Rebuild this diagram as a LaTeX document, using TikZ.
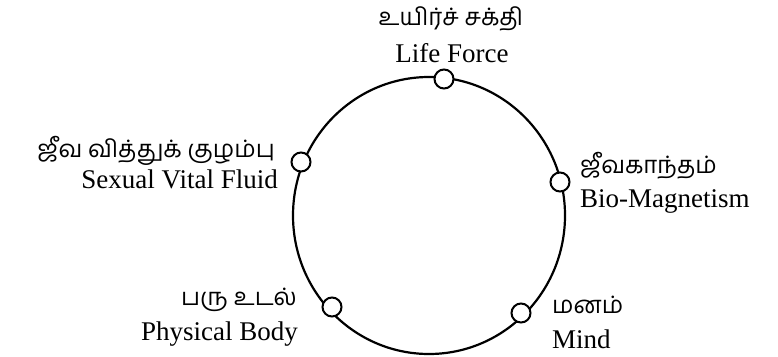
\documentclass[tikz,border=0pt]{standalone}
\usepackage{fontspec}
\setmainfont{Liberation Serif}
\newfontfamily\tamilfont[Script=Tamil]{Hind Madurai}
\begin{document}
\begin{tikzpicture}[x=1pt,y=-1pt,
  dot/.style={circle,draw,line width=2pt,fill=white,minimum size=19pt,inner sep=0pt},
  en/.style={font=\fontsize{27}{31}\selectfont,inner sep=0pt},
  ta/.style={font=\tamilfont\fontsize{24}{28}\selectfont,inner sep=0pt}]
\useasboundingbox (0,0) rectangle (778,356);
\draw[line width=2.2pt] (429,215.5) ellipse [x radius=136, y radius=138.5];
\node[dot] (life) at (444,79) {};
\node[dot] (sex) at (301,162) {};
\node[dot] (bio) at (560,182) {};
\node[dot] (body) at (332,307) {};
\node[dot] (mind) at (521,313) {};
\node[ta,anchor=base] (lifeT) at (451,25) {உயிர்ச் சக்தி};
\node[en,anchor=base] (lifeE) at (452,62) {Life Force};
\node[ta,anchor=base east] (sexT) at (275,157) {ஜீவ வித்துக் குழம்பு};
\node[en,anchor=base east] (sexE) at (278,188) {Sexual Vital Fluid};
\node[ta,anchor=base west] (bioT) at (580,173) {ஜீவகாந்தம்};
\node[en,anchor=base west] (bioE) at (580,207) {Bio-Magnetism};
\node[ta,anchor=base east] (bodyT) at (297,305) {பரு உடல்};
\node[en,anchor=base east] (bodyE) at (298,340) {Physical Body};
\node[ta,anchor=base west] (mindT) at (552,313) {மனம்};
\node[en,anchor=base west] (mindE) at (552,348) {Mind};
\end{tikzpicture}
\end{document}
